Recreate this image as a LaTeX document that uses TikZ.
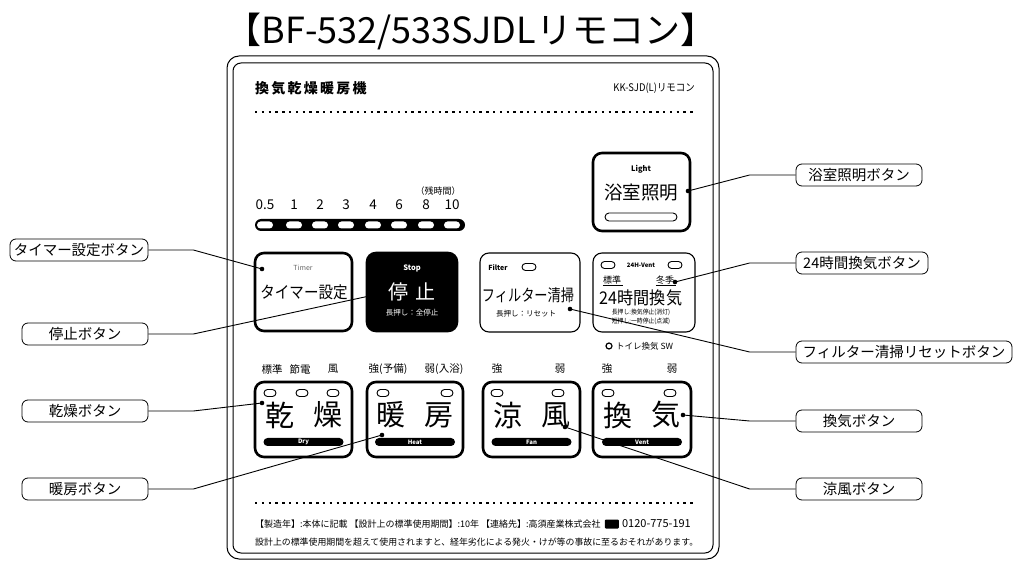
\documentclass[tikz,border=0pt]{standalone}
\usepackage{fontspec}
\newfontfamily\jpfont{Noto Sans CJK JP}
\newcommand\jpsz[1]{\jpfont\fontsize{#1}{#1}\selectfont}
\tikzset{
  bigbtn/.style={draw, line width=2.6pt, rounded corners=9pt, inner sep=0pt},
  thinbtn/.style={draw, line width=1.1pt, rounded corners=9pt, inner sep=0pt},
  lamp/.style={draw, fill=white, line width=0.9pt, rounded corners=3.5pt,
    minimum width=14pt, minimum height=7pt, inner sep=0pt},
  pill/.style={fill=black, rounded corners=4pt, minimum height=8pt,
    minimum width=80pt, inner sep=0pt, text=white, font=\jpsz{6}\bfseries},
  callout/.style={draw, line width=0.8pt, rounded corners=6pt,
    minimum height=22pt, minimum width=126pt, inner sep=1pt, font=\jpsz{14.5}},
  lead/.style={line width=0.9pt},
  dots/.style={line width=2.4pt, dash pattern=on 2.4pt off 4.4pt},
  txt/.style={inner sep=0pt},
}
\begin{document}
\begin{tikzpicture}[x=1pt, y=-1pt]
    \useasboundingbox (0,0) rectangle (1013,561);
    % 標題
    \node[txt, font=\jpsz{36}] (title) at (471,31) {【BF-532/533SJDLリモコン】};

    % 外框
    \draw[line width=1pt, rounded corners=12pt] (227,56) rectangle (719,559);
    \draw[line width=1pt, rounded corners=8pt] (233,63) rectangle (713,553);
    \node[txt, anchor=west, font=\jpsz{14}\bfseries\addfontfeatures{LetterSpace=16}] (head) at (255,88) {換気乾燥暖房機};
    \node[txt, anchor=east, xscale=0.9, font=\jpsz{10.5}] (model) at (695,88) {KK-SJD(L)リモコン};
    \draw[dots] (255,112) -- (695,112);

    % 残時間表示
    \node[txt, font=\jpsz{9}] (remain) at (438,191) {（残時間）};
    \fill[rounded corners=6pt] (255,219) rectangle (465,231);
    \foreach \x/\t in {265/0.5, 294/1, 320/2, 346/3, 373/4, 399/6, 426/8, 452/10} {
        \node[txt, font=\jpsz{13.5}] at (\x,205) {\t};
        \node[lamp, draw=none, minimum width=16pt, minimum height=7pt] at (\x,225) {};
    }

    % 浴室照明
    \node[bigbtn, minimum width=97pt, minimum height=78pt] (light) at (641.5,192) {};
    \node[txt, font=\jpsz{7.5}\bfseries] at (641,169) {Light};
    \node[txt, font=\jpsz{18.5}] at (641,193) {浴室照明};
    \node[lamp, minimum width=72pt, minimum height=8pt, rounded corners=4pt] at (641,217) {};

    % タイマー設定
    \node[bigbtn, minimum width=97pt, minimum height=78pt] (timer) at (303.5,292) {};
    \node[txt, font=\jpsz{7}, text=black!60] at (303,268) {Timer};
    \node[txt, xscale=0.88, font=\jpsz{16.5}] at (304,292) {タイマー設定};

    % 停止
    \node[bigbtn, fill=black, minimum width=90pt, minimum height=78pt] (stop) at (412,292) {};
    \node[txt, text=white, font=\jpsz{7.5}\bfseries] at (412,268) {Stop};
    \node[txt, text=white, font=\jpsz{20}] at (412,292) {停\hspace{7pt}止};
    \node[txt, text=white, font=\jpsz{7.5}] at (412,313) {長押し：全停止};

    % フィルター清掃
    \node[thinbtn, minimum width=100pt, minimum height=79pt] (filter) at (530,292.5) {};
    \node[txt, font=\jpsz{7}\bfseries] at (498,268) {Filter};
    \node[lamp] at (529,267) {};
    \node[txt, xscale=0.8, font=\jpsz{16.5}] at (528,295) {フィルター清掃};
    \node[txt, font=\jpsz{7.5}] at (526,314) {長押し：リセット};

    % 24時間換気
    \node[thinbtn, minimum width=102pt, minimum height=79pt] (vent24) at (644,292.5) {};
    \node[lamp] at (608,265) {};
    \node[lamp] at (675,265) {};
    \node[txt, font=\jpsz{6}\bfseries] at (641,265) {24H-Vent};
    \node[txt, font=\jpsz{9}] (std) at (612,280) {標準};
    \node[txt, font=\jpsz{9}] (win) at (665,280) {冬季};
    \draw[line width=0.6pt] (std.south west) ++(0,1) -- ++(20,0);
    \draw[line width=0.6pt] (win.south west) ++(0,1) -- ++(20,0);
    \node[txt, xscale=0.92, font=\jpsz{17.5}] at (641,298) {24時間換気};
    \node[txt, xscale=0.9, font=\jpsz{6.5}] at (641,312) {長押し:換気停止(消灯)};
    \node[txt, xscale=0.9, font=\jpsz{6.5}] at (641,321) {短押し:一時停止(点滅)};
    \draw[line width=1.2pt] (609,346) circle (3);
    \node[txt, anchor=west, font=\jpsz{8.5}] (toilet) at (616,346) {トイレ換気 SW};

    % 運転ボタン
    \foreach \x/\t in {272/標準, 300/節電, 333/風, 388/強(予備), 444/弱(入浴), 497/強, 560/弱, 607/強, 672/弱} {
        \node[txt, font=\jpsz{10.5}] at (\x,369) {\t};
    }
    \node[bigbtn, minimum width=97pt, minimum height=75pt] (dry) at (303.5,419.5) {};
    \node[bigbtn, minimum width=96pt, minimum height=75pt] (heat) at (415,419.5) {};
    \node[bigbtn, minimum width=97pt, minimum height=75pt] (fan) at (531.5,419.5) {};
    \node[bigbtn, minimum width=98pt, minimum height=75pt] (vent) at (642,419.5) {};
    \foreach \x in {270, 302, 333, 383, 447, 497, 558, 608, 670} {
        \node[lamp, minimum width=12pt] at (\x,393) {};
    }
    \foreach \c/\a/\b/\e in {303.5/乾/燥/Dry, 415/暖/房/Heat, 531.5/涼/風/Fan, 642/換/気/Vent} {
        \node[txt, font=\jpsz{29}] at (\c-24,415) {\a};
        \node[txt, font=\jpsz{29}] at (\c+24,415) {\b};
        \node[pill] at (\c,442) {\e};
    }

    % 注意書き
    \draw[dots] (255,503) -- (695,503);
    \node[txt, anchor=west, font=\jpsz{9}] (note1) at (255,524) {【製造年】:本体に記載 【設計上の標準使用期間】:10年 【連絡先】:高須産業株式会社};
    \fill[rounded corners=1pt] (note1.east) ++(4,-4.5) rectangle ++(14,9);
    \node[txt, anchor=west, font=\jpsz{11}] (tel) at ([xshift=21pt]note1.east) {0120-775-191};
    \node[txt, anchor=west, font=\jpsz{8.9}] (note2) at (255,542) {設計上の標準使用期間を超えて使用されますと、経年劣化による発火・けが等の事故に至るおそれがあります。};

    % 説明ラベル
    \node[callout, minimum width=138pt] (tmlbl) at (79,250) {タイマー設定ボタン};
    \node[callout] (stlbl) at (85,334) {停止ボタン};
    \node[callout] (drylbl) at (85,411) {乾燥ボタン};
    \node[callout] (htlbl) at (85,489) {暖房ボタン};
    \node[callout] (ltlbl) at (859,175) {浴室照明ボタン};
    \node[callout, minimum width=132pt] (vtlbl) at (862,263) {24時間換気ボタン};
    \node[callout, minimum width=216pt] (fllbl) at (904,352) {フィルター清掃リセットボタン};
    \node[callout] (vnlbl) at (859,421) {換気ボタン};
    \node[callout] (fnlbl) at (859,489) {涼風ボタン};

    % 指示点
    \coordinate (tmdot) at (262,269);
    \coordinate (stdot) at (374,295);
    \coordinate (drydot) at (262,403);
    \coordinate (htdot) at (382,435);
    \coordinate (ltdot) at (688,191);
    \coordinate (vtdot) at (675,282);
    \coordinate (fldot) at (570,309);
    \coordinate (vndot) at (683,415);
    \coordinate (fndot) at (565,427);

    % 引出線
    \foreach \l/\d in {tmlbl/tmdot, stlbl/stdot, drylbl/drydot, htlbl/htdot} {
        \draw[lead] (\l.east) -- ++(45,0) -- (\d);
        \fill (\d) circle (2.3);
    }
    \foreach \l/\d in {ltlbl/ltdot, vtlbl/vtdot, fllbl/fldot, vnlbl/vndot, fnlbl/fndot} {
        \draw[lead] (\l.west) -- ++(-46,0) -- (\d);
        \fill (\d) circle (2.3);
    }
\end{tikzpicture}
\end{document}
